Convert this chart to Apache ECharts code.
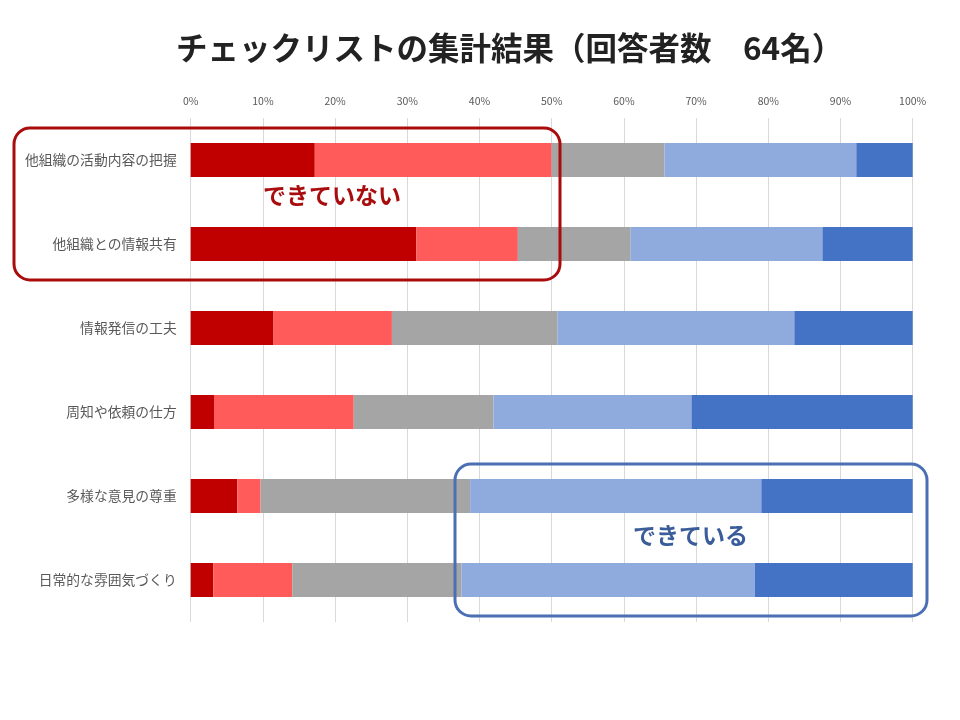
<!DOCTYPE html>
<html><head><meta charset="utf-8">
<script src="https://cdn.jsdelivr.net/npm/echarts@6/dist/echarts.min.js"></script>
<style>html,body{margin:0;padding:0;background:#fff}#c{width:960px;height:720px}</style>
</head><body><div id="c"></div>
<script>
var categories = ['他組織の活動内容の把握','他組織との情報共有','情報発信の工夫','周知や依頼の仕方','多様な意見の尊重','日常的な雰囲気づくり'];
// counts per answer level (respondents per row)
var level1 = [11, 20, 7, 2, 4, 2];
var level2 = [21, 9, 10, 12, 2, 7];
var level3 = [10, 10, 14, 12, 18, 15];
var level4 = [17, 17, 20, 17, 25, 26];
var level5 = [5, 8, 10, 19, 13, 14];
var tickLabels = ['0%','10%','20%','30%','40%','50%','60%','70%','80%','90%','100%'];
var colors = ['#C00000','#FF5B5B','#A5A5A5','#8FAADC','#4472C4'];

var levels = [level1, level2, level3, level4, level5];
var totals = categories.map(function(_, i){ return levels.reduce(function(s, a){ return s + a[i]; }, 0); });
function share(arr){ return arr.map(function(v, i){ return v / totals[i] * 100; }); }

var font = '"Noto Sans CJK JP", sans-serif';
var chart = echarts.init(document.getElementById('c'));
chart.setOption({
  animation: false,
  title: {
    text: 'チェックリストの集計結果（回答者数　64名）',
    left: 171, top: 27,
    textStyle: { fontFamily: font, fontSize: 31.5, fontWeight: 'bold', color: '#222' }
  },
  grid: { left: 190.7, right: 47.3, top: 118, bottom: 98, containLabel: false },
  xAxis: {
    type: 'value', position: 'top', min: 0, max: 100, interval: 10,
    axisLine: { show: false }, axisTick: { show: false },
    axisLabel: {
      fontFamily: font, fontSize: 10.5, color: '#595959', margin: 12,
      formatter: function(v){ return tickLabels[Math.round(v / 10)]; }
    },
    splitLine: { lineStyle: { color: '#D9D9D9', width: 1 } }
  },
  yAxis: {
    type: 'category', data: categories, inverse: true,
    axisLine: { show: false }, axisTick: { show: false },
    axisLabel: { fontFamily: font, fontSize: 13.8, color: '#595959', margin: 14 }
  },
  series: levels.map(function(arr, k){
    return {
      type: 'bar', stack: 'all', data: share(arr), barWidth: 34,
      itemStyle: { color: colors[k] }, silent: true
    };
  }),
  graphic: [
    { type: 'rect', shape: { x: 14, y: 128, width: 546, height: 152, r: 16 },
      style: { fill: 'none', stroke: '#A80C0C', lineWidth: 3 }, z: 100 },
    { type: 'text', left: 263, top: 184,
      style: { text: 'できていない', fill: '#A80C0C', font: 'bold 23px "Noto Sans CJK JP"' }, z: 100 },
    { type: 'rect', shape: { x: 455, y: 464, width: 472, height: 152, r: 16 },
      style: { fill: 'none', stroke: '#4A6FB5', lineWidth: 3 }, z: 100 },
    { type: 'text', left: 633, top: 524,
      style: { text: 'できている', fill: '#3A5C9A', font: 'bold 23px "Noto Sans CJK JP"' }, z: 100 }
  ]
});
</script></body></html>
